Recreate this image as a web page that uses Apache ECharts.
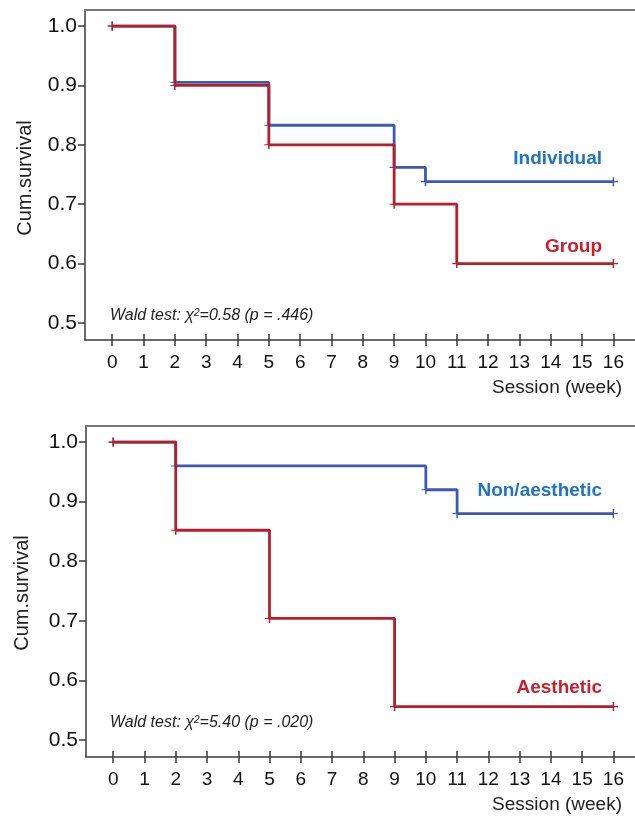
<!DOCTYPE html>
<html>
<head>
<meta charset="utf-8">
<script src="https://cdn.jsdelivr.net/npm/echarts@6/dist/echarts.min.js"></script>
<style>
  html, body { margin: 0; padding: 0; background: #fff; }
  #chart { width: 635px; height: 817px; }
</style>
</head>
<body>
<div id="chart"></div>
<script>
// session (week) tick labels and survival ticks
var weeks = [0, 1, 2, 3, 4, 5, 6, 7, 8, 9, 10, 11, 12, 13, 14, 15, 16]
var survTicks = [0.5, 0.6, 0.7, 0.8, 0.9, 1.0]

// top panel: individual vs group
var individualX = [0, 2, 5, 9, 10, 16]
var individualY = [1.0, 0.905, 0.833, 0.762, 0.738, 0.738]
var groupX = [0, 2, 5, 9, 11, 16]
var groupY = [1.0, 0.9, 0.8, 0.7, 0.6, 0.6]

// bottom panel: non/aesthetic vs aesthetic
var nonAestheticX = [0, 2, 10, 11, 16]
var nonAestheticY = [1.0, 0.96, 0.92, 0.88, 0.88]
var aestheticX = [0, 2, 5, 9, 16]
var aestheticY = [1.0, 0.852, 0.704, 0.556, 0.556]

var waldTop = ['0.58', '.446']
var waldBottom = ['5.40', '.020']

var BLUE = '#3f58b4'
var RED = '#b3202b'
var BLUE_TXT = '#1f74c4'
var RED_TXT = '#cc1f2e'
var AXIS = '#3a3a3a'
var FONT = 'Liberation Sans, Arial, sans-serif'

var plus = 'path://M4.2,0H5.8V10H4.2ZM0,4.4H10V5.6H0Z'

function pairs (xs, ys) {
  return xs.map(function (x, i) { return [x, ys[i]] })
}

function xAxes (gi) {
  var base = {
    type: 'value', gridIndex: gi, min: -0.87, max: 16.69,
    splitLine: { show: false }
  }
  return [
    Object.assign({}, base, {
      position: 'bottom',
      axisLine: { show: true, onZero: false, lineStyle: { color: AXIS, width: 1.5 } },
      axisTick: { show: true, inside: false, length: 6, customValues: weeks, lineStyle: { color: AXIS, width: 1.5 } },
      axisLabel: { show: true, customValues: weeks, margin: 13, color: '#111', fontSize: 19, fontFamily: FONT }
    }),
    Object.assign({}, base, {
      position: 'bottom',
      axisLine: { show: false, onZero: false },
      axisTick: { show: true, inside: true, length: 6, customValues: weeks, lineStyle: { color: AXIS, width: 1.5 } },
      axisLabel: { show: false }
    }),
    Object.assign({}, base, {
      position: 'top',
      axisLine: { show: true, onZero: false, lineStyle: { color: '#777', width: 2 } },
      axisTick: { show: false },
      axisLabel: { show: false }
    })
  ]
}

function yAxis (gi) {
  return {
    type: 'value', gridIndex: gi, min: 0.4714, max: 1.027,
    splitLine: { show: false },
    axisLine: { show: true, onZero: false, lineStyle: { color: AXIS, width: 1.5 } },
    axisTick: { show: true, length: 7, customValues: survTicks, lineStyle: { color: AXIS, width: 1.5 } },
    axisLabel: {
      customValues: survTicks, margin: 8, color: '#111', fontSize: 21, fontFamily: FONT,
      formatter: function (v) { return v.toFixed(1) }
    }
  }
}

function stepLine (name, xs, ys, color, axisIdx, z) {
  return {
    name: name, type: 'line', step: 'end',
    xAxisIndex: axisIdx, yAxisIndex: axisIdx / 3,
    data: pairs(xs, ys),
    symbol: plus, symbolSize: [9, 9],
    itemStyle: { color: color },
    lineStyle: { color: color, width: 2.8 },
    z: z, animation: false
  }
}

function waldEl (vals, x, y) {
  var fam = 'Liberation Sans Narrow, Arial Narrow, Liberation Sans, sans-serif'
  return {
    type: 'text', left: x, top: y,
    style: {
      text: '{a|Wald test: χ}{s|2}{a|=' + vals[0] + ' (p = ' + vals[1] + ')}',
      rich: {
        a: { fontSize: 16, fontStyle: 'italic', fill: '#222', fontFamily: fam },
        s: { fontSize: 10, fontStyle: 'italic', fill: '#222', verticalAlign: 'top', padding: [0, 0, 6, 0], fontFamily: fam }
      }
    }
  }
}

function rightLabel (text, color, rightX, cy) {
  return {
    type: 'text', right: 635 - rightX, top: cy - 11,
    style: { text: text, fill: color, fontSize: 19, fontWeight: 'bold', fontFamily: FONT }
  }
}

function yName (x, cy) {
  return {
    type: 'text', x: x, y: cy, rotation: Math.PI / 2,
    style: { text: 'Cum.survival', fill: '#222', fontSize: 20, align: 'center', verticalAlign: 'middle', fontFamily: FONT }
  }
}

function xName (cy) {
  return {
    type: 'text', right: 13, top: cy - 11,
    style: { text: 'Session (week)', fill: '#222', fontSize: 19, fontFamily: FONT }
  }
}

var chart = echarts.init(document.getElementById('chart'))
chart.setOption({
  backgroundColor: '#fff',
  animation: false,
  grid: [
    { left: 85, top: 10, right: 0, height: 330 },
    { left: 86, top: 426, right: 0, height: 331 }
  ],
  xAxis: xAxes(0).concat(xAxes(1)),
  yAxis: [yAxis(0), yAxis(1)],
  series: [
    stepLine('Individual', individualX, individualY, BLUE, 0, 2),
    stepLine('Group', groupX, groupY, RED, 0, 3),
    stepLine('Non/aesthetic', nonAestheticX, nonAestheticY, BLUE, 3, 2),
    stepLine('Aesthetic', aestheticX, aestheticY, RED, 3, 3)
  ],
  graphic: [
    yName(25, 178),
    yName(22, 593),
    xName(389),
    xName(806),
    waldEl(waldTop, 110, 308),
    waldEl(waldBottom, 110, 715),
    rightLabel('Individual', BLUE_TXT, 602, 160),
    rightLabel('Group', RED_TXT, 602, 248),
    rightLabel('Non/aesthetic', BLUE_TXT, 602, 492),
    rightLabel('Aesthetic', RED_TXT, 602, 689)
  ]
})
</script>
</body>
</html>
